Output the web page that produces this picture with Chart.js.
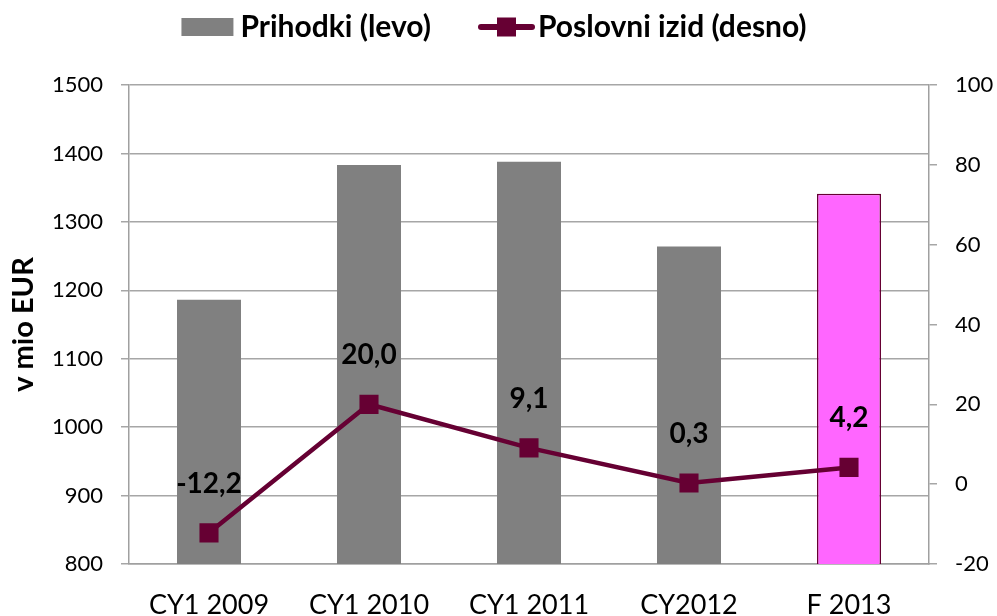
<!DOCTYPE html>
<html>
<head>
<meta charset="utf-8">
<script src="https://cdn.jsdelivr.net/npm/chart.js@4/dist/chart.umd.min.js"></script>
<style>
  html, body { margin: 0; padding: 0; background: #ffffff; }
  #c { display: block; }
</style>
</head>
<body>
<canvas id="c" width="997" height="616"></canvas>
<script>
// ---- data ----
const categories = ['CY1 2009', 'CY1 2010', 'CY1 2011', 'CY2012', 'F 2013'];
const revenue = [1186, 1383, 1388, 1264, 1341];       // Prihodki (levo), mio EUR
const operatingResult = [-12.2, 20.0, 9.1, 0.3, 4.2]; // Poslovni izid (desno)
const seriesNames = ['Prihodki (levo)', 'Poslovni izid (desno)'];
const leftAxisTitle = 'v mio EUR';

const FONT = 'Lato, "Open Sans", sans-serif';
const GRAY = '#808080';
const MAROON = '#660033';
const PINK = '#FF66FF';

// legend symbol images
function makeBarSymbol() {
  const cv = document.createElement('canvas');
  cv.width = 80; cv.height = 18;
  const g = cv.getContext('2d');
  g.fillStyle = GRAY;
  g.fillRect(24, 0, 52, 18);
  return cv;
}
function makeLineSymbol() {
  const cv = document.createElement('canvas');
  cv.width = 80; cv.height = 20;
  const g = cv.getContext('2d');
  g.strokeStyle = MAROON;
  g.lineWidth = 6;
  g.lineCap = 'round';
  g.beginPath(); g.moveTo(26, 10); g.lineTo(77, 10); g.stroke();
  g.fillStyle = MAROON;
  g.fillRect(42, 0.5, 19, 19);
  return cv;
}
const barSymbol = makeBarSymbol();
const lineSymbol = makeLineSymbol();

const dataLabels = {
  id: 'dataLabels',
  afterDatasetsDraw(chart) {
    const meta = chart.getDatasetMeta(1);
    const ctx = chart.ctx;
    ctx.save();
    ctx.font = 'bold 28px ' + FONT;
    ctx.fillStyle = '#000';
    ctx.textAlign = 'center';
    ctx.textBaseline = 'middle';
    meta.data.forEach((pt, i) => {
      const txt = operatingResult[i].toFixed(1).replace('.', ',');
      ctx.fillText(txt, pt.x, pt.y - 49);
    });
    ctx.restore();
  }
};

const legendSize = {
  id: 'legendSize',
  beforeLayout(chart) {
    const lg = chart.legend;
    if (lg && !lg._sized) {
      const f = lg.fit.bind(lg);
      lg.fit = function () {
        f();
        this.height = 109;
        if (this.lineWidths && this.lineWidths.length) this.lineWidths[0] += 21;
      };
      lg._sized = true;
    }
  }
};

new Chart(document.getElementById('c'), {
  data: {
    labels: categories,
    datasets: [
      {
        type: 'bar',
        label: seriesNames[0],
        data: revenue,
        yAxisID: 'y',
        backgroundColor: [GRAY, GRAY, GRAY, GRAY, PINK],
        borderColor: [GRAY, GRAY, GRAY, GRAY, MAROON],
        borderWidth: [0, 0, 0, 0, 1.5],
        borderSkipped: false,
        barPercentage: 0.4,
        categoryPercentage: 1.0,
        order: 1
      },
      {
        type: 'line',
        label: seriesNames[1],
        data: operatingResult,
        yAxisID: 'y1',
        borderColor: MAROON,
        backgroundColor: MAROON,
        borderWidth: 4.5,
        pointStyle: 'rect',
        pointRadius: 13.5,
        pointHoverRadius: 13.5,
        pointBorderWidth: 0,
        pointBackgroundColor: MAROON,
        tension: 0,
        order: 0
      }
    ]
  },
  options: {
    responsive: false,
    devicePixelRatio: 1,
    animation: false,
    layout: { padding: { top: -24, left: 0, right: 0, bottom: 0 } },
    plugins: {
      tooltip: { enabled: false },
      legend: {
        position: 'top',
        labels: {
          usePointStyle: true,
          pointStyleWidth: 56,
          boxHeight: 30,
          padding: 36,
          color: '#000',
          font: { family: FONT, size: 30, weight: 'bold' },
          generateLabels(chart) {
            return chart.data.datasets.map((ds, i) => ({
              text: ds.label,
              datasetIndex: i,
              pointStyle: i === 0 ? barSymbol : lineSymbol,
              fillStyle: 'transparent',
              strokeStyle: 'transparent',
              lineWidth: 0,
              fontColor: '#000',
              hidden: false
            }));
          }
        }
      }
    },
    scales: {
      x: {
        grid: { display: false },
        border: { display: true, color: '#A0A0A0', width: 1.5 },
        ticks: { color: '#000', font: { family: FONT, size: 27 }, padding: 17, maxRotation: 0 },
        afterFit(s) { s.height = 52; }
      },
      y: {
        position: 'left',
        min: 800, max: 1500,
        ticks: { stepSize: 100, color: '#000', font: { family: FONT, size: 22 }, padding: 18,
                 callback: (v) => String(v) },
        grid: { color: '#A6A6A6', lineWidth: 1.5, tickLength: 8 },
        border: { display: true, color: '#A0A0A0', width: 1.5 },
        title: { display: true, text: leftAxisTitle, color: '#000', font: { family: FONT, size: 29, weight: 'bold' }, padding: { top: 6, bottom: 0 } },
        afterFit(s) { s.width = 129; }
      },
      y1: {
        position: 'right',
        min: -20, max: 100,
        ticks: { stepSize: 20, color: '#000', font: { family: FONT, size: 22 }, padding: 18,
                 callback: (v) => String(v) },
        grid: { drawOnChartArea: false, color: '#A6A6A6', lineWidth: 1.5, tickLength: 8 },
        border: { display: true, color: '#A0A0A0', width: 1.5 },
        afterFit(s) { s.width = 68; }
      }
    }
  },
  plugins: [legendSize, dataLabels]
});
</script>
</body>
</html>
